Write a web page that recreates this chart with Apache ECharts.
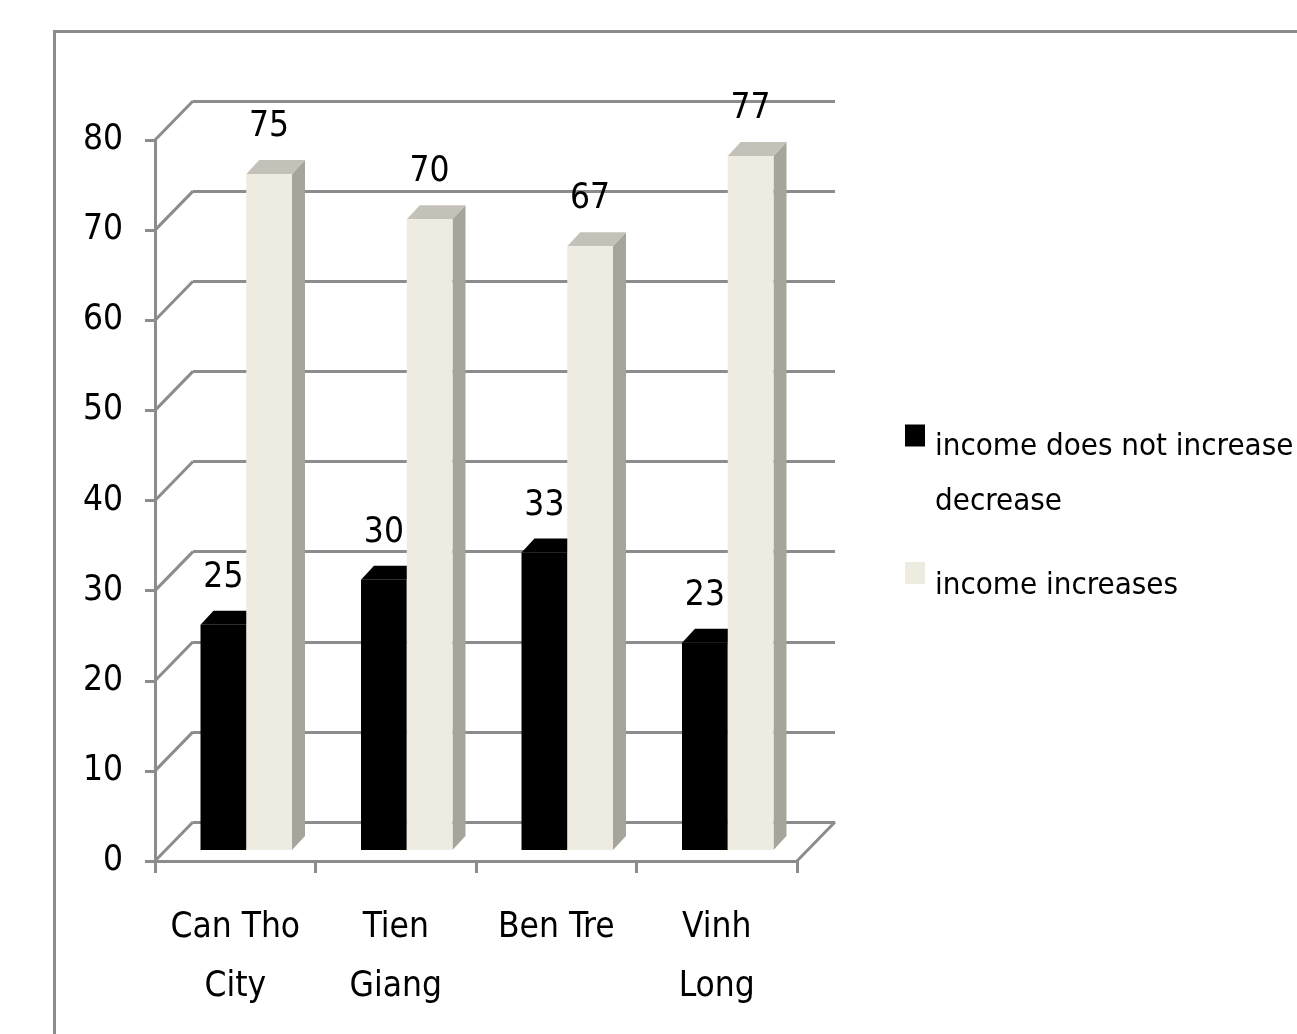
<!DOCTYPE html>
<html><head><meta charset="utf-8">
<script src="https://cdn.jsdelivr.net/npm/echarts@6/dist/echarts.min.js"></script>
<style>html,body{margin:0;padding:0;background:#fff}#main{width:1297px;height:1034px}</style>
</head><body><div id="main"></div>
<script>
// ---- data ----
const categories = ['Can Tho\nCity', 'Tien\nGiang', 'Ben Tre', 'Vinh\nLong'];
const seriesNames = ['income does not increase / decrease', 'income increases'];
const notIncrease = [25, 30, 33, 23];
const increases = [75, 70, 67, 77];
const yTicks = [0, 10, 20, 30, 40, 50, 60, 70, 80];

// ---- layout / style ----
const FONT = "'Liberation Sans Narrow', 'DejaVu Sans Condensed', 'Noto Sans', sans-serif";
const AXIS_FS = 35, LABEL_FS = 35, LEGEND_FS = 31;
const GRAY = '#8c8c8c';
const FRONT = { left: 155, top: 140, width: 642, height: 721 };
const DEPTH = [38, -39];
const BAR_SHIFT = [11, -11];
const BAR_DEPTH = [13, -14];
const BAR_FRAC = 0.285;
const COLORS = [
  { front: '#000000', top: '#000000', side: '#000000' },
  { front: '#EEECE1', top: '#C4C2B8', side: '#A6A59B' }
];

function makeBarRender(kind) {
  return function (params, api) {
    const i = api.value(0), v = api.value(1);
    const top = api.coord([i, v]);
    const base = api.coord([i, 0]);
    const bw = api.size([1, 0])[0] * BAR_FRAC;
    const cx = top[0] + BAR_SHIFT[0];
    const x0 = kind === 0 ? cx - bw : cx;
    const x1 = x0 + bw;
    const yT = top[1] + BAR_SHIFT[1], yB = base[1] + BAR_SHIFT[1];
    const dx = BAR_DEPTH[0], dy = BAR_DEPTH[1];
    const c = COLORS[kind];
    return {
      type: 'group', children: [
        { type: 'polygon', shape: { points: [[x1, yB], [x1 + dx, yB + dy], [x1 + dx, yT + dy], [x1, yT]] }, style: { fill: c.side } },
        { type: 'polygon', shape: { points: [[x0, yT], [x0 + dx, yT + dy], [x1 + dx, yT + dy], [x1, yT]] }, style: { fill: c.top } },
        { type: 'rect', shape: { x: x0, y: yT, width: bw, height: yB - yT }, style: { fill: c.front } },
        { type: 'text', style: { text: String(v), x: (x0 + x1) / 2, y: yT - 47, align: 'center', verticalAlign: 'middle', fontSize: LABEL_FS, fontFamily: FONT, fill: '#000' } }
      ]
    };
  };
}

function renderWall(params, api) {
  const i = api.value(0), v = api.value(1), side = api.value(2);
  const p = api.coord([i, v]);
  const w = api.size([1, 0])[0];
  const x = p[0] + side * w / 2;
  return {
    type: 'line',
    shape: { x1: x, y1: p[1], x2: x + DEPTH[0], y2: p[1] + DEPTH[1] },
    style: { stroke: GRAY, lineWidth: 3 }
  };
}

const wallData = yTicks.map(v => [0, v, -1]).concat([[categories.length - 1, 0, 1]]);

const chart = echarts.init(document.getElementById('main'));
chart.setOption({
  animation: false,
  backgroundColor: '#ffffff',
  graphic: [{
    type: 'rect', z: -10,
    shape: { x: 54.5, y: 31.5, width: 1400, height: 1200 },
    style: { fill: 'none', stroke: GRAY, lineWidth: 3 }
  }],
  grid: [
    { left: FRONT.left, top: FRONT.top, width: FRONT.width, height: FRONT.height },
    { left: FRONT.left + DEPTH[0], top: FRONT.top + DEPTH[1], width: FRONT.width, height: FRONT.height }
  ],
  xAxis: [
    {
      type: 'category', gridIndex: 0, data: categories, boundaryGap: true,
      axisLine: { show: true, lineStyle: { color: GRAY, width: 3 } },
      axisTick: { show: true, length: 12, lineStyle: { color: GRAY, width: 3 } },
      axisLabel: { fontSize: AXIS_FS, lineHeight: 59, margin: 37, color: '#000', fontFamily: FONT, interval: 0 }
    },
    {
      type: 'category', gridIndex: 1, data: categories, show: false
    }
  ],
  yAxis: [
    {
      type: 'value', gridIndex: 0, min: 0, max: 80, interval: 10,
      axisLine: { show: true, lineStyle: { color: GRAY, width: 3 } },
      axisTick: { show: true, length: 10, lineStyle: { color: GRAY, width: 3 } },
      splitLine: { show: false },
      axisLabel: { fontSize: AXIS_FS, margin: 32, color: '#000', fontFamily: FONT }
    },
    {
      type: 'value', gridIndex: 1, min: 0, max: 80, interval: 10,
      axisLine: { show: false }, axisTick: { show: false }, axisLabel: { show: false },
      splitLine: { show: true, lineStyle: { color: GRAY, width: 3 } }
    }
  ],
  legend: {
    orient: 'vertical', left: 905, top: 419, padding: 0, itemGap: 2,
    itemWidth: 25, itemHeight: 110,
    formatter: n => n.replace(' / ', ' /\n'),
    textStyle: { fontSize: LEGEND_FS, lineHeight: 55, fontFamily: FONT, color: '#000' },
    data: [
      { name: seriesNames[0], icon: 'path://M0,0L0,0M25,110L25,110M0,5.5h20v22h-20z' },
      { name: seriesNames[1], icon: 'path://M0,0L0,0M25,110L25,110M0,31h20v22h-20z' }
    ]
  },
  series: [
    {
      type: 'custom', name: 'walls', xAxisIndex: 0, yAxisIndex: 0,
      data: wallData, renderItem: renderWall, silent: true
    },
    {
      type: 'custom', name: seriesNames[0], xAxisIndex: 0, yAxisIndex: 0,
      itemStyle: { color: COLORS[0].front },
      data: notIncrease.map((v, i) => [i, v]), encode: { x: 0, y: 1 },
      renderItem: makeBarRender(0)
    },
    {
      type: 'custom', name: seriesNames[1], xAxisIndex: 0, yAxisIndex: 0,
      itemStyle: { color: COLORS[1].front },
      data: increases.map((v, i) => [i, v]), encode: { x: 0, y: 1 },
      renderItem: makeBarRender(1)
    }
  ]
});
</script>
</body></html>
